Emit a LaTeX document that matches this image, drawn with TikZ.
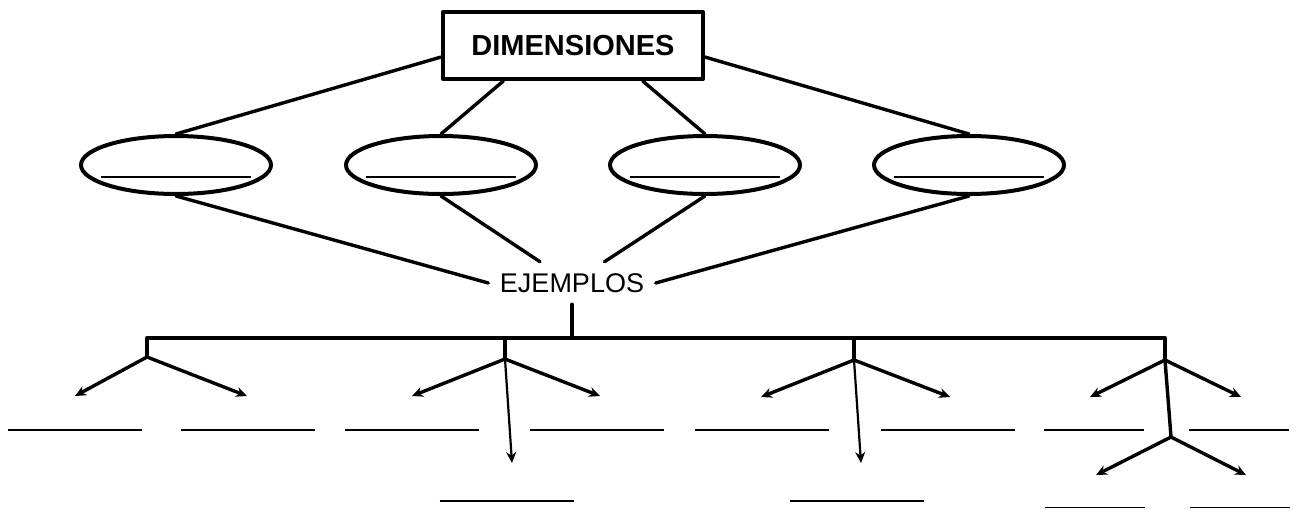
\documentclass[tikz,border=0pt]{standalone}
\usepackage{fontspec}
\setmainfont{Liberation Sans}
\usetikzlibrary{shapes.geometric,arrows.meta}
\newcommand{\blank}[1]{\rule{#1}{0.9pt}}
\begin{document}
\begin{tikzpicture}[line cap=round, line join=round, >={Stealth[length=5.5pt,width=5pt]}, x=0.5pt, y=-0.5pt, line width=1.7pt]
	\tikzset{dimbox/.style={draw, rectangle, line width=2pt, minimum width=130pt, minimum height=33.5pt, font=\bfseries\fontsize{14.5}{16}\selectfont},
		oval/.style={draw, ellipse, line width=2pt, minimum width=95pt, minimum height=29pt, inner sep=0pt},
		slot/.style={inner sep=0pt}}
	\useasboundingbox (0,0) rectangle (1294,509);
	% top
	\node[dimbox] (dim) at (573,45.5) {DIMENSIONES};
	\node[oval] (e1) at (176,165) {};
	\node[oval] (e2) at (441,165) {};
	\node[oval] (e3) at (705,165) {};
	\node[oval] (e4) at (969,165) {};
	\node[slot] (o1) at (176,177) {\blank{75pt}};
	\node[slot] (o2) at (441,177) {\blank{75pt}};
	\node[slot] (o3) at (705,177) {\blank{75pt}};
	\node[slot] (o4) at (969,177) {\blank{75pt}};
	\node[inner sep=5pt, font=\fontsize{13.5}{15}\selectfont] (ej) at (572,283) {EJEMPLOS};
	\draw (dim.185) -- (e1.north);
	\draw (dim.207) -- (e2.north);
	\draw (dim.333) -- (e3.north);
	\draw (dim.355) -- (e4.north);
	\draw (e1.south) -- (ej.west);
	\draw (e2.south) -- (ej);
	\draw (e3.south) -- (ej);
	\draw (e4.south) -- (ej.east);
	% tree
	\coordinate (hub) at (572,338);
	\coordinate (f1) at (147,357);
	\coordinate (f2) at (505,359);
	\coordinate (f3) at (854,360);
	\coordinate (f4) at (1165,360);
	\coordinate (f5) at (1171,437);
	\draw (ej.south) -- (hub);
	\draw (f1) -- (f1 |- hub) -- (f4 |- hub) -- (f4);
	\draw (f2 |- hub) -- (f2);
	\draw (f3 |- hub) -- (f3);
	\coordinate (a11) at (75,396);
	\coordinate (a12) at (247,396);
	\coordinate (a21) at (412,396);
	\coordinate (a22) at (600,396);
	\coordinate (a23) at (512,463);
	\coordinate (a31) at (761,397);
	\coordinate (a32) at (950,397);
	\coordinate (a33) at (861,463);
	\coordinate (a41) at (1090,397);
	\coordinate (a42) at (1241,397);
	\coordinate (a43) at (1096,475);
	\coordinate (a44) at (1246,475);
	\draw[->] (f1) -- (a11);
	\draw[->] (f1) -- (a12);
	\draw[->] (f2) -- (a21);
	\draw[->] (f2) -- (a22);
	\draw[->, line width=1.1pt] (f2) -- (a23);
	\draw[->] (f3) -- (a31);
	\draw[->] (f3) -- (a32);
	\draw[->, line width=1.1pt] (f3) -- (a33);
	\draw[->] (f4) -- (a41);
	\draw[->] (f4) -- (a42);
	\draw (f4) -- (f5);
	\draw[->] (f5) -- (a43);
	\draw[->] (f5) -- (a44);
	% blanks
	\node[slot] (s11) at (75,430) {\blank{67pt}};
	\node[slot] (s12) at (247.5,430) {\blank{67pt}};
	\node[slot] (s21) at (412,430) {\blank{67pt}};
	\node[slot] (s22) at (597,430) {\blank{67pt}};
	\node[slot] (s23) at (506.5,501) {\blank{67pt}};
	\node[slot] (s31) at (761.5,430) {\blank{67pt}};
	\node[slot] (s32) at (947.5,430) {\blank{67pt}};
	\node[slot] (s33) at (856.5,501) {\blank{67pt}};
	\node[slot] (s41) at (1093.5,430) {\blank{50pt}};
	\node[slot] (s42) at (1239,430) {\blank{50pt}};
	\node[slot] (s43) at (1095,507.5) {\blank{50pt}};
	\node[slot] (s44) at (1239.5,507.5) {\blank{50pt}};
\end{tikzpicture}
\end{document}
